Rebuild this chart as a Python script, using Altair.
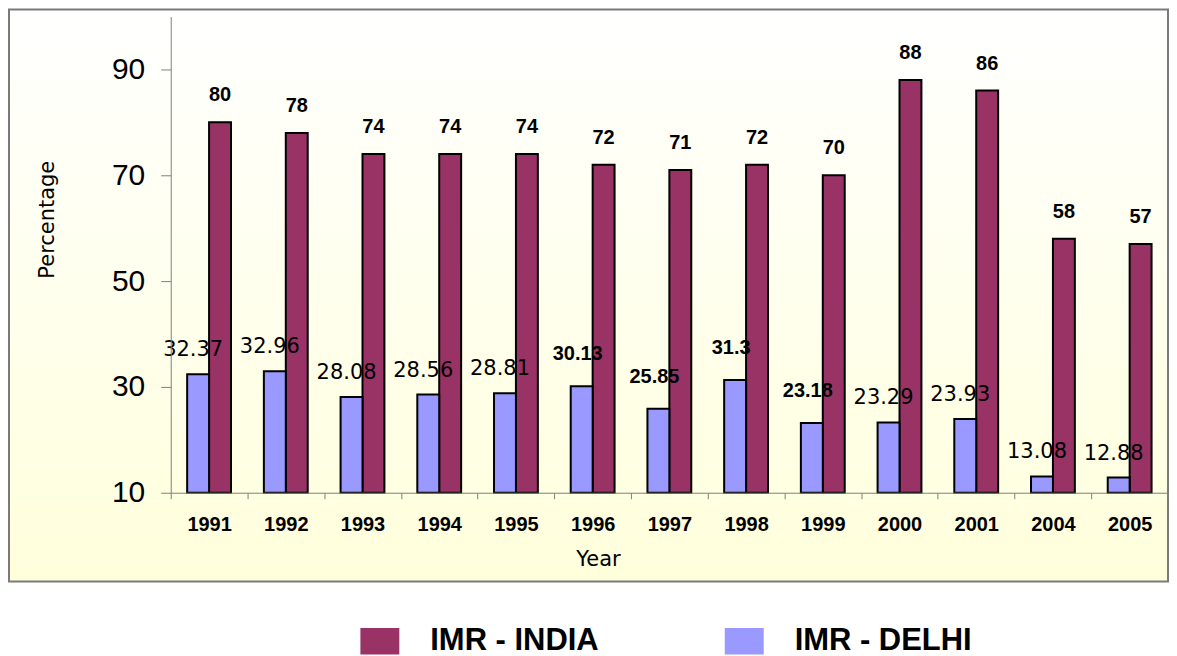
import altair as alt
import pandas as pd

years = ["1991", "1992", "1993", "1994", "1995", "1996", "1997", "1998",
         "1999", "2000", "2001", "2004", "2005"]
imr_india = [80, 78, 74, 74, 74, 72, 71, 72, 70, 88, 86, 58, 57]
imr_delhi = [32.37, 32.96, 28.08, 28.56, 28.81, 30.13, 25.85, 31.3,
             23.18, 23.29, 23.93, 13.08, 12.88]
series_names = ["IMR - INDIA", "IMR - DELHI"]
y_ticks = [10, 30, 50, 70, 90]
# Delhi labels printed in bold in the original
bold_delhi_years = ["1996", "1997", "1998", "1999"]

rows = []
for yr, v in zip(years, imr_india):
    rows.append({"year": yr, "series": "IMR - INDIA", "value": v, "label": str(v), "bold": False})
for yr, v in zip(years, imr_delhi):
    rows.append({"year": yr, "series": "IMR - DELHI", "value": v, "label": str(v),
                 "bold": yr in bold_delhi_years})
df = pd.DataFrame(rows)

PLOT_W = 999
PLOT_H = 477

x_enc = alt.X("year:N", sort=years,
              scale=alt.Scale(paddingInner=0, paddingOuter=0),
              axis=alt.Axis(title="Year", labelAngle=0, tickBand="extent", zindex=1,
                            labelFont="Liberation Sans", labelFontSize=20, labelFontWeight="bold",
                            labelColor="black", labelPadding=16,
                            tickSize=6, tickColor="#808080", domainColor="#808080",
                            titleFont="DejaVu Sans", titleFontSize=21, titleFontWeight="normal",
                            titleColor="black", titleX=428, titleY=56, titleAlign="center",
                            titleBaseline="top"))
xoff_enc = alt.XOffset("series:N",
                       scale=alt.Scale(domain=["IMR - DELHI", "IMR - INDIA"],
                                       paddingOuter=0.75, paddingInner=0))
y_enc = alt.Y("value:Q",
              scale=alt.Scale(domain=[10, 100], zero=False, nice=False),
              axis=alt.Axis(title="Percentage", values=y_ticks, grid=False, zindex=1,
                            labelFont="Liberation Sans", labelFontSize=30, labelColor="black",
                            labelPadding=16, tickSize=10, tickColor="#808080",
                            domainColor="#808080",
                            titleFont="DejaVu Sans", titleFontSize=21, titleFontWeight="normal",
                            titleColor="black", titleAngle=-90, titleX=-123, titleY=203,
                            titleAlign="center", titleBaseline="middle"))

base = alt.Chart(df)

background = alt.Chart(pd.DataFrame({"k": [0]})).mark_rect(
    fill=alt.Gradient(gradient="linear",
                      stops=[alt.GradientStop(color="#ffffff", offset=0),
                             alt.GradientStop(color="#ffffdc", offset=1)],
                      x1=0, x2=0, y1=0, y2=1),
    stroke="#7a7a7a", strokeWidth=2
).encode(x=alt.value(-162), x2=alt.value(PLOT_W), y=alt.value(-7), y2=alt.value(566))

bars = base.mark_bar(stroke="black", strokeWidth=2).encode(
    x=x_enc, xOffset=xoff_enc, y=y_enc, y2=alt.datum(10),
    color=alt.Color("series:N",
                    scale=alt.Scale(domain=series_names, range=["#993366", "#9999ff"]),
                    legend=alt.Legend(title=None, orient="none", direction="horizontal",
                                      legendX=190, legendY=606,
                                      symbolType="M-1,-0.68L1,-0.68L1,0.68L-1,0.68Z",
                                      symbolSize=1521, symbolStrokeWidth=0, symbolOpacity=1,
                                      labelFont="Liberation Sans",
                                      labelFontSize=31, labelFontWeight="bold",
                                      labelColor="black", labelLimit=400, labelOffset=31,
                                      columnPadding=126))
)

india_text = base.transform_filter(alt.datum.series == "IMR - INDIA").mark_text(
    font="Liberation Sans", fontSize=20, fontWeight="bold", color="black",
    baseline="middle", dy=-27
).encode(x=alt.X("year:N", sort=years), xOffset=alt.XOffset("series:N"),
         y=alt.Y("value:Q"), text="label:N")

delhi_plain = base.transform_filter(
    (alt.datum.series == "IMR - DELHI") & (alt.datum.bold == False)
).mark_text(font="DejaVu Sans", fontSize=21, color="black", baseline="middle", dy=-24, dx=-5
).encode(x=alt.X("year:N", sort=years), xOffset=alt.XOffset("series:N"),
         y=alt.Y("value:Q"), text="label:N")

delhi_bold = base.transform_filter(
    (alt.datum.series == "IMR - DELHI") & (alt.datum.bold == True)
).mark_text(font="Liberation Sans", fontSize=20, fontWeight="bold", color="black",
            baseline="middle", dy=-32, dx=-4
).encode(x=alt.X("year:N", sort=years), xOffset=alt.XOffset("series:N"),
         y=alt.Y("value:Q"), text="label:N")

chart = alt.layer(background, bars, india_text, delhi_plain, delhi_bold).properties(
    width=PLOT_W, height=PLOT_H, padding=0
).configure_view(stroke=None).configure(background="white")

chart.save("out.html", embed_options={"renderer": "svg", "actions": False})
